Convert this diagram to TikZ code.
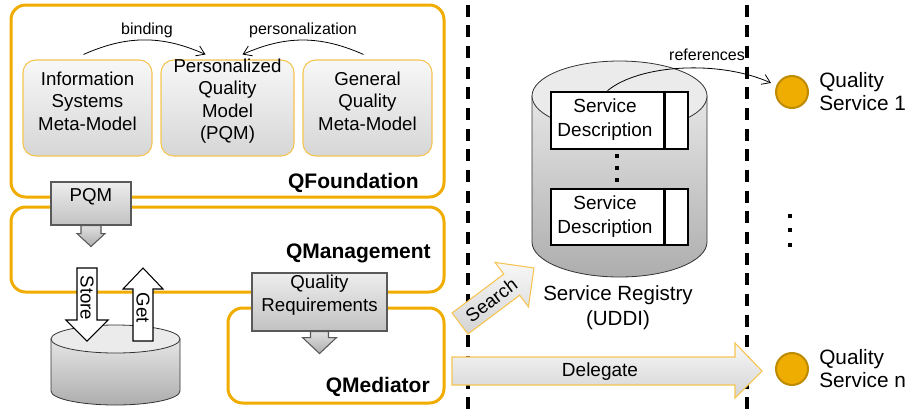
\documentclass[tikz,border=0pt]{standalone}
\usepackage{fontspec}
\setmainfont{Liberation Sans}
\usetikzlibrary{fit,arrows.meta,calc}
\definecolor{qorange}{RGB}{240,172,0}
\definecolor{lorange}{RGB}{246,196,80}
\definecolor{cfill}{RGB}{238,173,0}
\definecolor{cdraw}{RGB}{190,138,0}
\tikzset{
 container/.style={draw=qorange, line width=2.25pt, rounded corners=11pt, inner sep=0pt},
 ibox/.style={draw=lorange, line width=0.8pt, rounded corners=9.5pt, top color=black!3, bottom color=black!16, inner sep=0pt, align=center, font=\fontsize{14}{16.9}\selectfont},
 gbox/.style={draw=black!65, line width=0.8pt, top color=black!7, bottom color=black!24, inner sep=0pt, align=center, font=\fontsize{14}{16.9}\selectfont},
 garrow/.style={draw=black!65, line width=0.8pt, top color=black!12, bottom color=black!32},
 warrow/.style={draw=black, line width=0.8pt, fill=white},
 oarrow/.style={draw=lorange, line width=0.8pt, top color=black!3, bottom color=black!17},
 title/.style={font=\bfseries\fontsize{15.75}{18}\selectfont, anchor=base east, inner sep=0pt},
 lbl/.style={font=\fontsize{12}{14}\selectfont, inner sep=0pt},
 txt/.style={font=\fontsize{14}{16.9}\selectfont, inner sep=0pt},
 sdtxt/.style={font=\fontsize{14.25}{18}\selectfont, inner sep=0pt, align=center},
 big/.style={font=\fontsize{15.6}{17.25}\selectfont, inner sep=0pt},
 sepline/.style={line width=2.5pt, dash pattern=on 9pt off 6.5pt},
 svc/.style={circle, draw=cdraw, fill=cfill, line width=1.5pt, minimum size=24pt, inner sep=0pt},
 sd/.style={draw=black, line width=2pt, fill=white, inner sep=0pt},
 curve/.style={-{Straight Barb[length=6pt,width=8pt]}, line width=0.6pt},
 cylbody/.style={draw=black!80, line width=0.6pt, top color=black!10, bottom color=black!32},
 cyltop/.style={draw=black!80, line width=0.6pt, fill=black!8}
}
\begin{document}
\begin{tikzpicture}[x=0.75pt,y=-0.75pt]
\useasboundingbox (0,0) rectangle (906,412);
% separators
\coordinate (s1a) at (468,4.5); \coordinate (s1b) at (468,412);
\coordinate (s2a) at (747,4.5); \coordinate (s2b) at (747,412);
\draw[sepline] (s1a) -- (s1b);
\draw[sepline] (s2a) -- (s2b);
% containers
\node[container, fit={(11,5) (444,197)}] (qf) {};
\node[container, fit={(11,207) (444,292)}] (qm) {};
\node[container, fit={(228,308) (444,403)}] (qmed) {};
\node[title] (tqf) at (419,188) {QFoundation};
\node[title] (tqm) at (431,258) {QManagement};
\node[title] (tqmed) at (430,392) {QMediator};
% inner models
\node[ibox, fit={(23,60) (152,156)}] (ism) {Information\\Systems\\Meta-Model};
\node[ibox, fit={(161,60) (294,156)}] (pqm) {Personalized\\Quality\\Model\\(PQM)};
\node[ibox, fit={(303,60) (432,156)}] (gqm) {General\\Quality\\Meta-Model};
\draw[curve] ([shift={(-4,-5)}]ism.north) to[bend left=24] ([shift={(-22,-5)}]pqm.north);
\draw[curve] ([shift={(-4,-5)}]gqm.north) to[bend right=24] ([shift={(15,-5)}]pqm.north);
\node[lbl] (lbind) at (147,30) {binding};
\node[lbl] (lpers) at (303,30) {personalization};
% PQM box
\node[gbox, fit={(51,182) (131,225)}] (pqmbox) {PQM};
\begin{scope}[shift={(pqmbox.south)}]
\draw[garrow] (-10,0) -- (-10,8) -- (-14,8) -- (0,21) -- (14,8) -- (10,8) -- (10,0) -- cycle;
\end{scope}
% left database
\draw[cylbody] (51,339) -- (51,391) arc[start angle=180, end angle=0, x radius=64.5, y radius=14] -- (180,339) -- cycle;
\draw[cyltop] (115.5,339) ellipse [x radius=64.5, y radius=14];
% Store arrow
\begin{scope}[shift={(87,268)}]
\draw[warrow] (-10,0) -- (10,0) -- (10,52) -- (21,52) -- (0,73) -- (-21,52) -- (-10,52) -- cycle;
\node[txt, rotate=-90] (tstore) at (0,30) {Store};
\end{scope}
% Get arrow
\begin{scope}[shift={(143,341)}]
\draw[warrow] (-10,0) -- (-10,-52) -- (-20,-52) -- (0,-73) -- (20,-52) -- (10,-52) -- (10,0) -- cycle;
\node[txt, rotate=-90] (tget) at (0,-33) {Get};
\end{scope}
% Quality requirements
\node[gbox, fit={(252,273) (387,331)}] (qr) {Quality\\Requirements};
\begin{scope}[shift={(qr.south)}]
\draw[garrow] (-9,0) -- (-9,6) -- (-17,6) -- (0,22) -- (17,6) -- (9,6) -- (9,0) -- cycle;
\end{scope}
% registry
\draw[cylbody] (532,96) -- (532,242) arc[start angle=180, end angle=0, x radius=87.5, y radius=35] -- (707,96) -- cycle;
\draw[cyltop] (619.5,96) ellipse [x radius=87.5, y radius=35];
\node[sd, fit={(551,92) (688,149)}] (sd1) {};
\draw[line width=2pt] ([xshift=-18.75pt]sd1.north east) -- ([xshift=-18.75pt]sd1.south east);
\node[sdtxt] (sd1t) at (605,120) {Service\\Description};
\node[sd, fit={(551,189) (688,245)}] (sd2) {};
\draw[line width=2pt] ([xshift=-18.75pt]sd2.north east) -- ([xshift=-18.75pt]sd2.south east);
\node[sdtxt] (sd2t) at (605,217) {Service\\Description};
\foreach \yy in {156,168,180} \fill (615.3,\yy-1.7) rectangle (618.7,\yy+1.7);
\node[big, align=center, font=\fontsize{15.4}{18.75}\selectfont] (sr) at (618,307.5) {Service Registry\\(UDDI)};
% services
\node[svc] (svc1) at (792,92) {};
\node[svc] (svcn) at (792,369) {};
\node[big, anchor=west, align=left] (l1) at (819,91.5) {Quality\\Service 1};
\node[big, anchor=west, align=left] (ln) at (819,368.5) {Quality\\Service n};
\foreach \yy in {216,230,245} \fill (788,\yy-2) rectangle (792,\yy+2);
% references
\draw[curve] ([xshift=-9pt]sd1.north) .. controls (640,64) and (720,60) .. ([shift={(-9,3)}]svc1.north west);
\node[lbl] (lref) at (707,55) {references};
% search
\begin{scope}[shift={(460,323.5)}, rotate=36.9]
\draw[oarrow] (0,-13.2) -- (64.7,-13.2) -- (64.7,-27.8) -- (92.5,0) -- (64.7,27.8) -- (64.7,13.2) -- (0,13.2) -- cycle;
\node[txt, rotate=36.9] (tsearch) at (39,0) {Search};
\end{scope}
% delegate
\draw[oarrow] (452,357) -- (735,357) -- (735,343) -- (762,371) -- (735,398) -- (735,385) -- (452,385) -- cycle;
\node[txt, font=\fontsize{14.25}{17}\selectfont] (tdel) at (600,372) {Delegate};
\end{tikzpicture}
\end{document}
